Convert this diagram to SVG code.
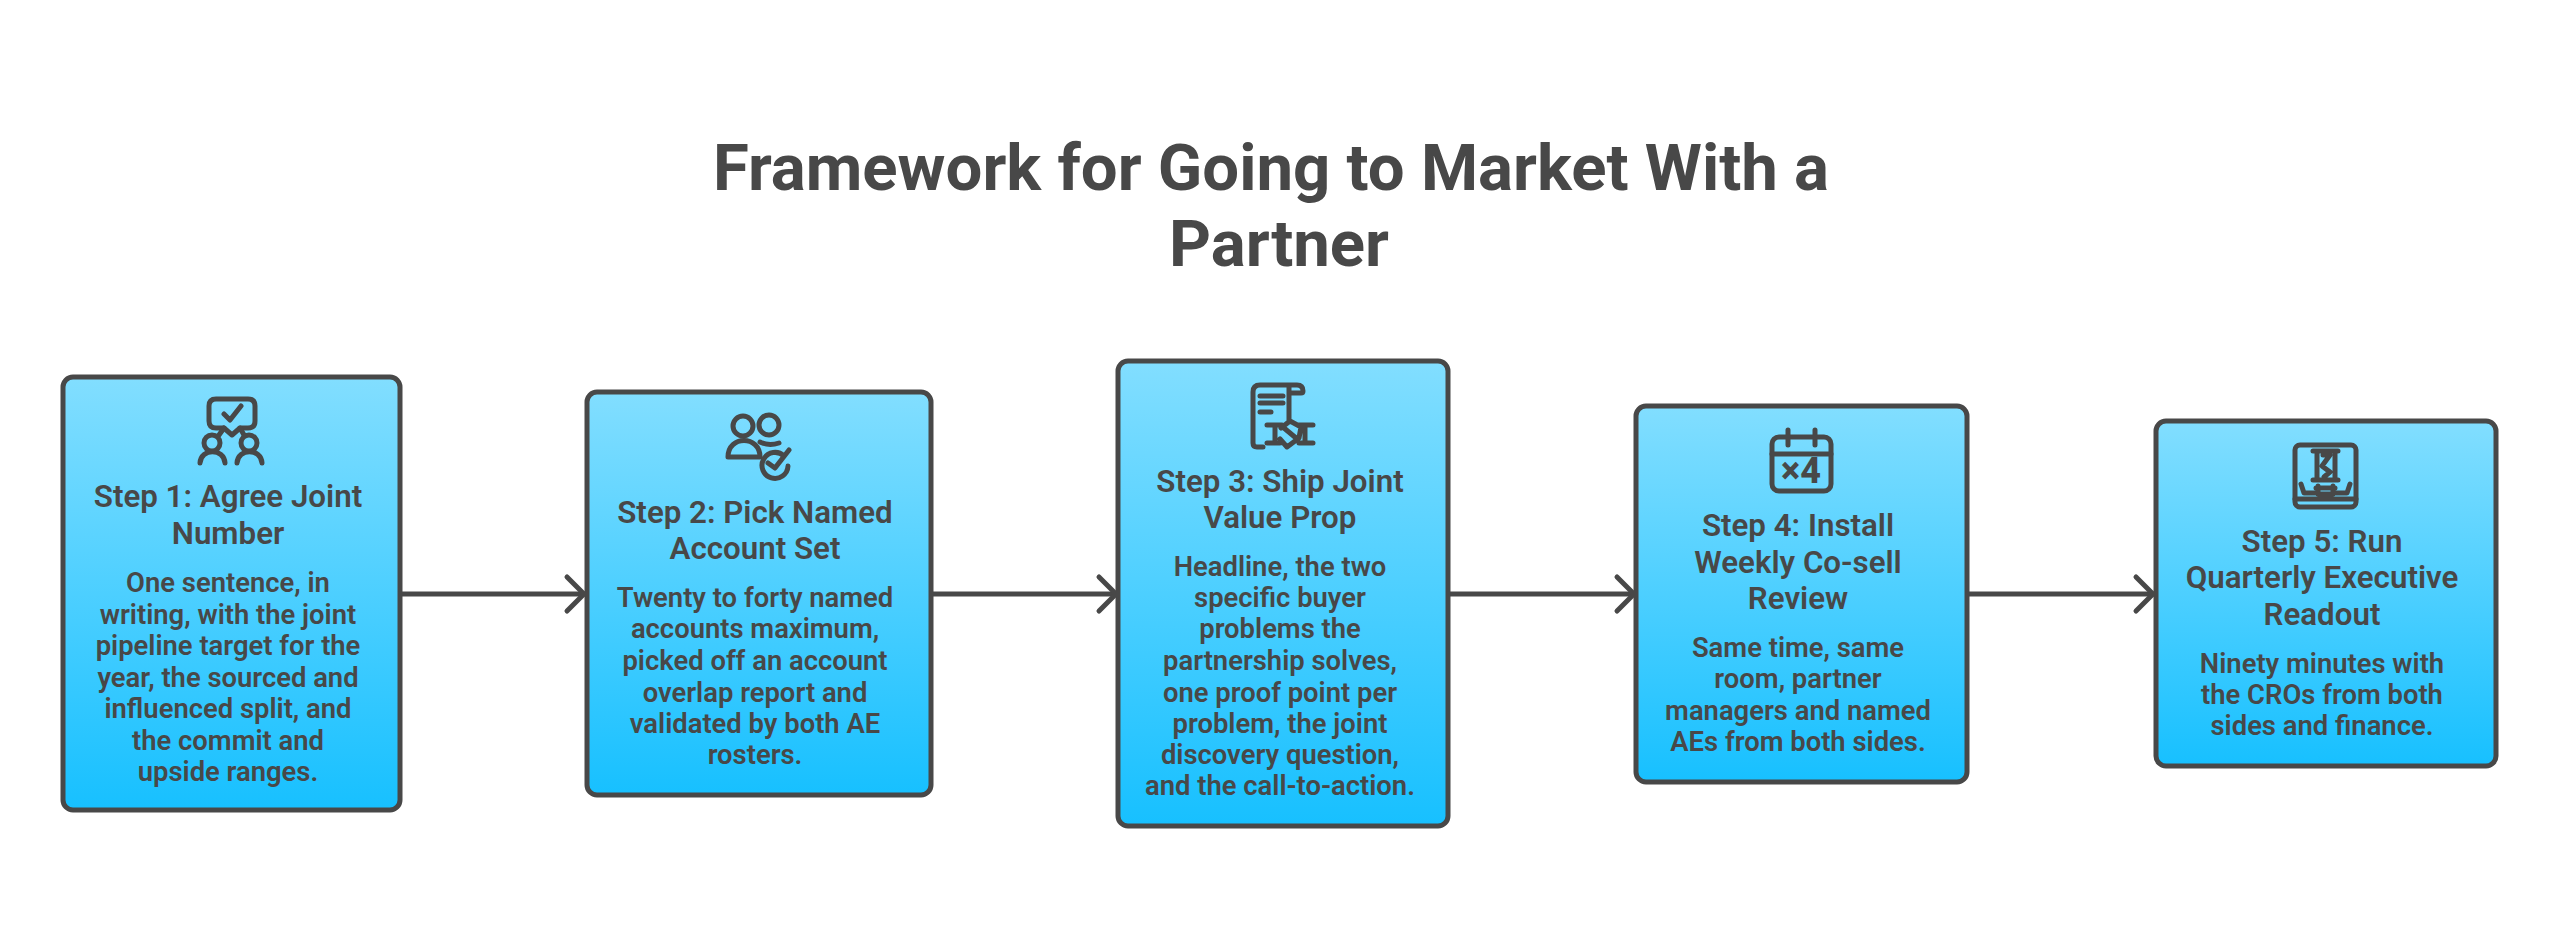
<svg xmlns="http://www.w3.org/2000/svg" width="2560" height="952" viewBox="0 0 2560 952">
<style>
text{font-family:Roboto,"Liberation Sans",sans-serif;fill:#484848;text-anchor:middle}
.title{font-size:65.3px;font-weight:700}
.h{font-size:31.3px;font-weight:600}
.b{font-size:27.4px;font-weight:600}
.box{fill:url(#g);stroke:#484848;stroke-width:5}
.i{fill:none;stroke:#484848;stroke-width:5;stroke-linecap:round;stroke-linejoin:round}
.c{fill:none;stroke:#484848;stroke-width:5;stroke-linecap:round;stroke-linejoin:round}
</style>
<defs>
<linearGradient id="g" x1="0" y1="0" x2="0" y2="1"><stop offset="0" stop-color="#82DEFF"/><stop offset="1" stop-color="#17C0FF"/></linearGradient>
<marker id="a" markerUnits="userSpaceOnUse" markerWidth="30" markerHeight="50" refX="22" refY="22" orient="auto" overflow="visible"><path class="c" d="M5 5L22 22L5 39"/></marker>
</defs>
<rect width="2560" height="952" fill="#fff"/>
<g id="title"><text class="title" x="1271" y="190">Framework for Going to Market With a</text><text class="title" x="1279" y="266">Partner</text></g>
<g id="connectors">
<path class="c" marker-end="url(#a)" d="M400 594H584"/>
<path class="c" marker-end="url(#a)" d="M931 594H1116"/>
<path class="c" marker-end="url(#a)" d="M1448 594H1634"/>
<path class="c" marker-end="url(#a)" d="M1967 594H2153"/>
</g>
<g id="step1">
<rect class="box" x="63" y="377" width="337" height="433" rx="10"/>
<path class="i" d="M216 399H248Q255 399 255 406V421Q255 428 248 428H240L232 435L224 428H216Q209 428 209 421V406Q209 399 216 399ZM224 414L230 420L241 406"/>
<path class="i" d="M224 428L219 435M240 428L244 435"/>
<circle class="i" cx="212" cy="443" r="8"/><circle class="i" cx="249" cy="443" r="8"/>
<path class="i" d="M200 463C201 448 224 448 225 463M237 463C238 448 261 448 262 463"/>
<text class="h" x="228" y="507">Step 1: Agree Joint</text><text class="h" x="228" y="544">Number</text>
<text class="b" x="228" y="592">One sentence, in</text><text class="b" x="228" y="624">writing, with the joint</text><text class="b" x="228" y="655">pipeline target for the</text><text class="b" x="228" y="687">year, the sourced and</text><text class="b" x="228" y="718">influenced split, and</text><text class="b" x="228" y="750">the commit and</text><text class="b" x="228" y="781">upside ranges.</text>
</g>
<g id="step2">
<rect class="box" x="587" y="392" width="344" height="403" rx="10"/>
<circle class="i" cx="743" cy="426" r="10"/><circle class="i" cx="769" cy="425" r="10"/>
<path class="i" d="M728 457C728 435 760 435 760 457ZM760 442C766 445 773 445 779 443"/>
<path class="i" d="M784 456A13 13 0 1 0 788 466M768 463L775 468L789 450"/>
<text class="h" x="755" y="523">Step 2: Pick Named</text><text class="h" x="755" y="559">Account Set</text>
<text class="b" x="755" y="607">Twenty to forty named</text><text class="b" x="755" y="638">accounts maximum,</text><text class="b" x="755" y="670">picked off an account</text><text class="b" x="755" y="702">overlap report and</text><text class="b" x="755" y="733">validated by both AE</text><text class="b" x="755" y="764">rosters.</text>
</g>
<g id="step3">
<rect class="box" x="1118" y="361" width="330" height="465" rx="10"/>
<path class="i" d="M1263 447H1257Q1253 447 1253 443V392Q1253 385 1260 385H1297Q1303 385 1303 391Q1303 393 1301 393H1290M1289 387V420M1260 396H1283M1260 403H1283M1260 412H1271M1267 425H1282M1298 425H1313M1267 443H1280M1299 443H1313M1275 425V443M1305 425V443M1280 439L1287 447L1299 438L1301 427L1290 421L1281 428M1284 428L1296 438"/>
<text class="h" x="1280" y="492">Step 3: Ship Joint</text><text class="h" x="1280" y="528">Value Prop</text>
<text class="b" x="1280" y="576">Headline, the two</text><text class="b" x="1280" y="607">specific buyer</text><text class="b" x="1280" y="638">problems the</text><text class="b" x="1280" y="670">partnership solves,</text><text class="b" x="1280" y="702">one proof point per</text><text class="b" x="1280" y="733">problem, the joint</text><text class="b" x="1280" y="764">discovery question,</text><text class="b" x="1280" y="795">and the call-to-action.</text>
</g>
<g id="step4">
<rect class="box" x="1636" y="406" width="331" height="376" rx="10"/>
<rect class="i" x="1772" y="437" width="59" height="54" rx="7"/>
<path class="i" d="M1772 454H1831M1788 430V445M1815 430V445"/>
<text x="1801" y="483" style="font-size:36px;font-weight:800">×4</text>
<text class="h" x="1798" y="536">Step 4: Install</text><text class="h" x="1798" y="573">Weekly Co-sell</text><text class="h" x="1798" y="609">Review</text>
<text class="b" x="1798" y="657">Same time, same</text><text class="b" x="1798" y="688">room, partner</text><text class="b" x="1798" y="720">managers and named</text><text class="b" x="1798" y="751">AEs from both sides.</text>
</g>
<g id="step5">
<rect class="box" x="2156" y="421" width="340" height="345" rx="10"/>
<rect class="i" x="2295" y="445" width="61" height="62" rx="5"/>
<path class="i" d="M2295 499H2356M2313 451H2338M2313 480H2338M2317 451V480M2335 451V480M2323 455L2330 455L2322 466L2330 472L2324 477M2301 484L2304 493H2315M2350 484L2347 493H2336M2316 488H2335M2318 486V494H2333V486"/>
<text class="h" x="2322" y="552">Step 5: Run</text><text class="h" x="2322" y="588">Quarterly Executive</text><text class="h" x="2322" y="625">Readout</text>
<text class="b" x="2322" y="673">Ninety minutes with</text><text class="b" x="2322" y="704">the CROs from both</text><text class="b" x="2322" y="735">sides and finance.</text>
</g>
</svg>
